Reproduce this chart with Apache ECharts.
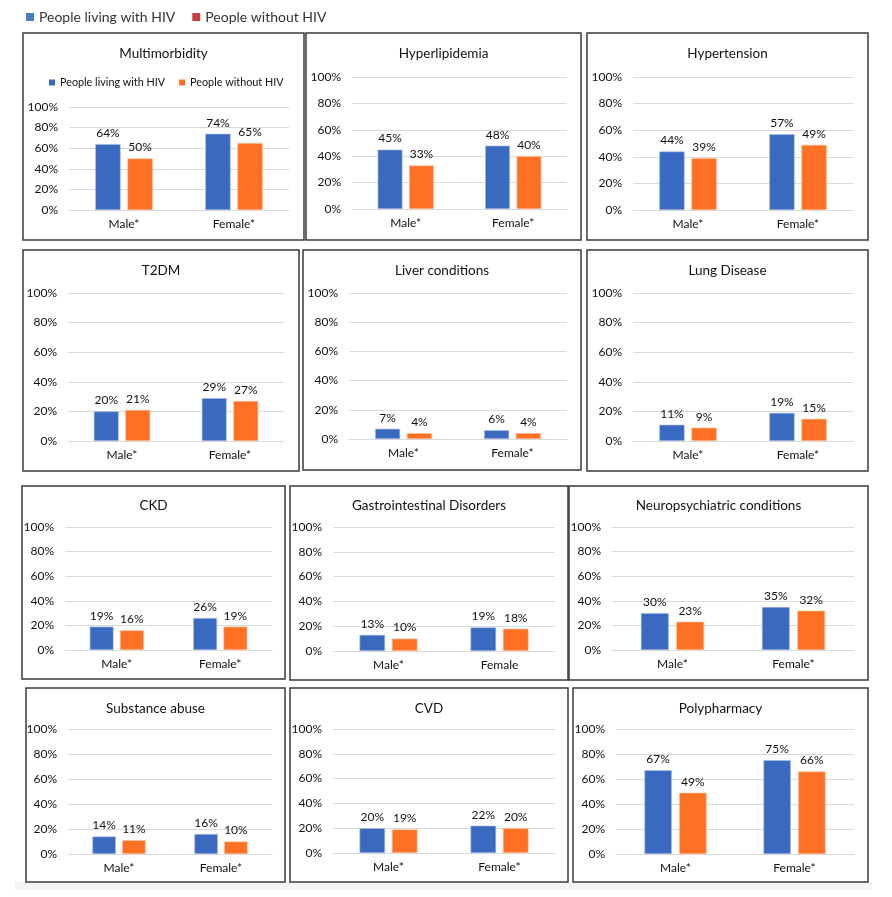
<!DOCTYPE html>
<html><head><meta charset="utf-8">
<script src="https://cdn.jsdelivr.net/npm/echarts@6/dist/echarts.min.js"></script>
<style>html,body{margin:0;padding:0;background:#fff}#c{width:892px;height:897px}</style>
</head><body><div id="c"></div>
<script>
// ---- data ----
var seriesNames = ['People living with HIV', 'People without HIV'];
var panelTitles = ['Multimorbidity','Hyperlipidemia','Hypertension','T2DM','Liver conditions','Lung Disease','CKD','Gastrointestinal Disorders','Neuropsychiatric conditions','Substance abuse','CVD','Polypharmacy'];
var categories = [
  ['Male*','Female*'],['Male*','Female*'],['Male*','Female*'],
  ['Male*','Female*'],['Male*','Female*'],['Male*','Female*'],
  ['Male*','Female*'],['Male*','Female'],['Male*','Female*'],
  ['Male*','Female*'],['Male*','Female*'],['Male*','Female*']
];
var hivValues   = [[64,74],[45,48],[44,57],[20,29],[7,6],[11,19],[19,26],[13,19],[30,35],[14,16],[20,22],[67,75]];
var noHivValues = [[50,65],[33,40],[39,49],[21,27],[4,4],[9,15],[16,19],[10,18],[23,32],[11,10],[19,20],[49,66]];
var yTickLabels = ['0%','20%','40%','60%','80%','100%'];

// ---- layout (positions only) ----
var layout = [
  {box:[23,33,304,240],  grid:[69,107,289,210], ty:52},
  {box:[306,33,581,240], grid:[352,77,567,209], ty:52},
  {box:[587,33,868,240], grid:[633,77,853,210], ty:52},
  {box:[23,250,299,471], grid:[68,293,284,441], ty:269},
  {box:[303,250,581,470],grid:[349,293,567,439],ty:269},
  {box:[587,250,868,471],grid:[633,293,853,441],ty:269},
  {box:[22,486,285,679], grid:[65,527,272,650], ty:504},
  {box:[290,486,568,680],grid:[333,527,555,651],ty:504},
  {box:[569,486,868,680],grid:[612,527,854,650],ty:504},
  {box:[26,688,285,882], grid:[68,729,272,854], ty:707},
  {box:[290,688,568,882],grid:[333,729,555,853],ty:707},
  {box:[573,688,868,882],grid:[616,729,854,854],ty:707}
];

var FONT = 'Lato';
var TXT = '#111';
var BLUE = '#3a69c0', ORANGE = '#fe7024';

var chart = echarts.init(document.getElementById('c'), null, {renderer:'canvas'});
var grids=[], xAxes=[], yAxes=[], series=[], titles=[], graphics=[];

graphics.push({type:'rect', shape:{x:15,y:882,width:857,height:8}, style:{fill:'#f4f4f4'}, z:-1});

layout.forEach(function(L, i){
  var g = L.grid;
  grids.push({left:g[0], top:g[1], width:g[2]-g[0], height:g[3]-g[1], containLabel:false});
  xAxes.push({type:'category', gridIndex:i, data:categories[i],
    axisLine:{show:true, lineStyle:{color:'#d9d9d9', width:1}}, axisTick:{show:false},
    axisLabel:{color:TXT, fontFamily:FONT, fontSize:12, margin:8}});
  yAxes.push({type:'value', gridIndex:i, min:0, max:100, interval:20,
    axisLine:{show:false}, axisTick:{show:false},
    splitLine:{lineStyle:{color:'#d9d9d9', width:1}},
    axisLabel:{color:TXT, fontFamily:FONT, fontSize:12, margin:11,
      formatter:function(v){ return yTickLabels[Math.round(v/20)]; }}});
  var lab = {show:true, position:'top', distance:5, color:TXT, fontFamily:FONT, fontSize:12, formatter:'{c}%'};
  series.push({type:'bar', name:seriesNames[0], xAxisIndex:i, yAxisIndex:i, data:hivValues[i],
    barWidth:'23%', barGap:'27%', itemStyle:{color:BLUE, borderColor:'#a9c0ea', borderWidth:0.6}, label:lab});
  series.push({type:'bar', name:seriesNames[1], xAxisIndex:i, yAxisIndex:i, data:noHivValues[i],
    barWidth:'23%', barGap:'27%', itemStyle:{color:ORANGE, borderColor:'#ffc19e', borderWidth:0.6}, label:lab});
  var b = L.box;
  titles.push({text:panelTitles[i], left:(b[0]+b[2])/2, top:L.ty-5, textAlign:'center', padding:0,
    textStyle:{color:TXT, fontFamily:FONT, fontSize:13.5, fontWeight:'normal'}});
  graphics.push({type:'rect', shape:{x:b[0], y:b[1], width:b[2]-b[0], height:b[3]-b[1]},
    style:{fill:'none', stroke:'#3a3a3a', lineWidth:1.5}, z:10});
});

var option = {
  animation:false,
  backgroundColor:'#fff',
  title:titles,
  legend:[
    {left:26, top:10, padding:0, itemWidth:8, itemHeight:8, itemGap:17, icon:'rect',
     textStyle:{color:'#333', fontFamily:FONT, fontSize:14},
     data:[{name:seriesNames[0], itemStyle:{color:'#4a7ebb', borderWidth:0}}, {name:seriesNames[1], itemStyle:{color:'#c94040', borderWidth:0}}]},
    {left:49, top:77, padding:0, itemWidth:6, itemHeight:6, itemGap:14, icon:'rect',
     textStyle:{color:TXT, fontFamily:FONT, fontSize:10.8},
     data:[{name:seriesNames[0], itemStyle:{color:BLUE, borderWidth:0}}, {name:seriesNames[1], itemStyle:{color:ORANGE, borderWidth:0}}]}
  ],
  grid:grids, xAxis:xAxes, yAxis:yAxes, series:series,
  graphic:graphics
};
chart.setOption(option);
</script></body></html>
